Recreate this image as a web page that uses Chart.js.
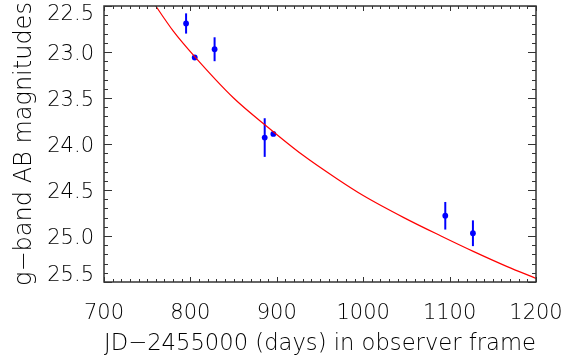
<!DOCTYPE html>
<html>
<head>
<meta charset="utf-8">
<script src="https://cdn.jsdelivr.net/npm/chart.js@4.4.1/dist/chart.umd.min.js"></script>
<style>
    html, body { margin: 0; padding: 0; background: #fff; }
    #lightCurve { display: block; }
</style>
</head>
<body>
<canvas id="lightCurve" width="586" height="355"></canvas>
<script>
// Observed g-band photometry (days after JD 2455000, AB mag, 1-sigma error)
const obsDays = [795, 805, 828, 886, 896, 1095, 1127];
const obsMag = [22.69, 23.06, 22.97, 23.93, 23.89, 24.78, 24.97];
const obsErr = [0.11, 0.02, 0.13, 0.21, 0.02, 0.15, 0.14];

// Model decay curve
const fitDays = [740, 760, 780, 805, 850, 890, 930, 970, 1000, 1047, 1090, 1128, 1166, 1200];
const fitMag = [22.21, 22.50, 22.77, 23.05, 23.50, 23.82, 24.12, 24.38, 24.56, 24.80, 25.00, 25.17, 25.33, 25.46];

// Axis ticks
const xTicks = [700, 800, 900, 1000, 1100, 1200];
const yTicks = [22.5, 23.0, 23.5, 24.0, 24.5, 25.0, 25.5];

const textColor = '#000000';
const frameColor = '#333333';
const fontFamily = '"DejaVu Sans", sans-serif';
const fontWeight = 200;

// IDL-style label placement: end labels pulled inside the frame
const yLabelShift = [9, 3, 3, 3, 3, 3, -6];

/**
 * Error bars drawn from the library's scales
 */
const errorBars = {
    id: 'errorBars',
    beforeDatasetsDraw(chart) {
        const ctx = chart.ctx;
        const x = chart.scales.x;
        const y = chart.scales.y;
        ctx.save();
        ctx.strokeStyle = '#0000ff';
        ctx.lineWidth = 2;
        obsDays.forEach((d, i) => {
            const px = x.getPixelForValue(d);
            ctx.beginPath();
            ctx.moveTo(px, y.getPixelForValue(obsMag[i] - obsErr[i]));
            ctx.lineTo(px, y.getPixelForValue(obsMag[i] + obsErr[i]));
            ctx.stroke();
        });
        ctx.restore();
    }
};

/**
 * Box frame with inward major/minor ticks on all four sides
 */
const frameTicks = {
    id: 'frameTicks',
    afterDraw(chart) {
        const ctx = chart.ctx;
        const a = chart.chartArea;
        const x = chart.scales.x;
        const y = chart.scales.y;
        ctx.save();
        ctx.strokeStyle = frameColor;
        ctx.lineWidth = 1.5;
        ctx.strokeRect(a.left, a.top, a.right - a.left, a.bottom - a.top);

        ctx.lineWidth = 1;
        ctx.beginPath();
        for (let v = 700; v <= 1200; v += 10) {
            const px = Math.round(x.getPixelForValue(v)) + 0.5;
            const len = v % 100 === 0 ? 5 : 3;
            ctx.moveTo(px, a.bottom); ctx.lineTo(px, a.bottom - len);
            ctx.moveTo(px, a.top); ctx.lineTo(px, a.top + len);
        }
        for (let k = 0; k <= 30; k++) {
            const v = 22.5 + k * 0.1;
            const py = Math.round(y.getPixelForValue(v)) + 0.5;
            const len = k % 5 === 0 ? 8 : 4;
            ctx.moveTo(a.left, py); ctx.lineTo(a.left + len, py);
            ctx.moveTo(a.right, py); ctx.lineTo(a.right - len, py);
        }
        ctx.stroke();
        ctx.restore();
    }
};

/**
 * Nudge y tick labels the way the original plot places them
 */
const nudgeLabels = {
    id: 'nudgeLabels',
    beforeDraw(chart) {
        const items = chart.scales.y.getLabelItems();
        items.forEach((item, i) => {
            if (item._nudged) return;
            item.options.translation[1] += yLabelShift[i] || 0;
            item._nudged = true;
        });
    }
};

const ctx = document.getElementById('lightCurve').getContext('2d');
new Chart(ctx, {
    type: 'scatter',
    data: {
        datasets: [
            {
                type: 'line',
                label: 'model',
                data: fitDays.map((d, i) => ({ x: d, y: fitMag[i] })),
                borderColor: '#ff0000',
                borderWidth: 1.2,
                pointRadius: 0,
                fill: false,
                cubicInterpolationMode: 'monotone'
            },
            {
                label: 'g-band',
                data: obsDays.map((d, i) => ({ x: d, y: obsMag[i] })),
                backgroundColor: '#0000ff',
                borderWidth: 0,
                pointRadius: 2.9
            }
        ]
    },
    options: {
        responsive: false,
        animation: false,
        devicePixelRatio: 1,
        layout: {
            padding: { top: 6, right: 50, left: 0, bottom: 0 }
        },
        plugins: {
            legend: { display: false },
            tooltip: { enabled: false }
        },
        scales: {
            x: {
                type: 'linear',
                min: 700,
                max: 1200,
                afterBuildTicks: function(scale) {
                    scale.ticks = xTicks.map(v => ({ value: v }));
                },
                afterFit: function(scale) {
                    scale.height = 73;
                    scale.paddingLeft = 0;
                    scale.paddingRight = 0;
                },
                grid: { display: false, drawTicks: false },
                border: { display: false },
                ticks: {
                    color: textColor,
                    padding: 19,
                    maxRotation: 0,
                    font: { family: fontFamily, size: 21, weight: fontWeight },
                    callback: function(value) {
                        return String(value);
                    }
                },
                title: {
                    display: true,
                    text: 'JD\u22122455000 (days) in observer frame',
                    color: textColor,
                    font: { family: fontFamily, size: 23, weight: fontWeight },
                    padding: { top: 0, bottom: -3 }
                }
            },
            y: {
                type: 'linear',
                reverse: true,
                min: 22.5,
                max: 25.5,
                afterBuildTicks: function(scale) {
                    scale.ticks = yTicks.map(v => ({ value: v }));
                },
                afterFit: function(scale) {
                    scale.width = 104;
                    scale.paddingTop = 0;
                    scale.paddingBottom = 0;
                },
                grid: { display: false, drawTicks: false },
                border: { display: false },
                ticks: {
                    color: textColor,
                    padding: 10,
                    font: { family: fontFamily, size: 21, weight: fontWeight },
                    callback: function(value) {
                        return value.toFixed(1);
                    }
                },
                title: {
                    display: true,
                    text: 'g\u2212band AB magnitudes',
                    color: textColor,
                    font: { family: fontFamily, size: 24, weight: fontWeight },
                    padding: { top: 10, bottom: 0 }
                }
            }
        }
    },
    plugins: [errorBars, frameTicks, nudgeLabels]
});
</script>
</body>
</html>
